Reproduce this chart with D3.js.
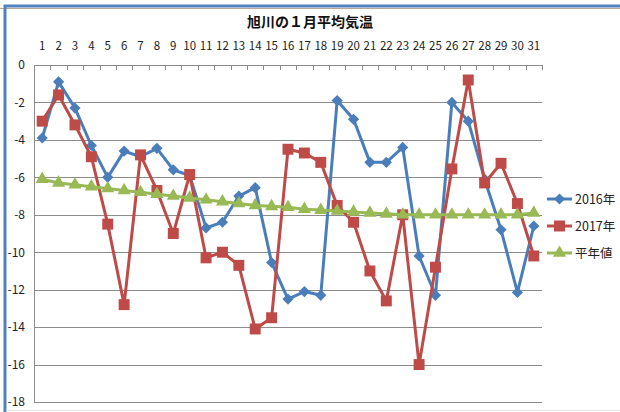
<!DOCTYPE html>
<html><head><meta charset="utf-8">
<script src="https://cdn.jsdelivr.net/npm/d3@7/dist/d3.min.js"></script>
<style>body{margin:0;background:#fff;} svg{display:block;}</style>
</head><body>
<svg id="c" width="620" height="412"></svg>
<script>
const days = d3.range(1, 32).map(String);
const s2016 = [-3.9,-0.9,-2.3,-4.3,-6.0,-4.6,-4.9,-4.45,-5.6,-5.9,-8.7,-8.4,-7.0,-6.55,-10.55,-12.5,-12.1,-12.3,-1.9,-2.9,-5.2,-5.2,-4.4,-10.2,-12.3,-2.0,-3.0,-6.1,-8.8,-12.15,-8.6];
const s2017 = [-3.0,-1.6,-3.2,-4.9,-8.5,-12.8,-4.8,-6.7,-9.0,-5.85,-10.3,-10.0,-10.7,-14.1,-13.5,-4.5,-4.7,-5.2,-7.5,-8.4,-11.0,-12.6,-8.0,-16.0,-10.8,-5.55,-0.8,-6.3,-5.25,-7.4,-10.2];
const sNormal = [-6.1,-6.3,-6.4,-6.5,-6.6,-6.7,-6.8,-6.9,-7.0,-7.1,-7.2,-7.3,-7.4,-7.5,-7.55,-7.6,-7.7,-7.75,-7.8,-7.85,-7.9,-7.95,-8.0,-8.0,-8.0,-8.0,-8.0,-8.0,-8.0,-8.0,-7.9];
const yTicks = [0,-2,-4,-6,-8,-10,-12,-14,-16,-18];
const seriesNames = ["2016年","2017年","平年値"];
const title = "旭川の１月平均気温";

const svg = d3.select("#c");
const font = "'Noto Sans CJK JP', 'Noto Sans', sans-serif";
const L = 34, R = 542, T = 65, B = 402;

// frame
svg.append("rect").attr("x",0).attr("y",0).attr("width",620).attr("height",412).attr("fill","#fff");
svg.append("line").attr("x1",0).attr("x2",620).attr("y1",8.5).attr("y2",8.5).attr("stroke","#b8a898").attr("stroke-width",1);
svg.append("line").attr("x1",4).attr("x2",620).attr("y1",6).attr("y2",6).attr("stroke","#4f81bd").attr("stroke-width",3);
svg.append("line").attr("x1",5).attr("x2",5).attr("y1",5).attr("y2",412).attr("stroke","#4f81bd").attr("stroke-width",3);
svg.append("line").attr("x1",6).attr("x2",620).attr("y1",410.5).attr("y2",410.5).attr("stroke","#e4e4e4").attr("stroke-width",1);

const x = d3.scaleBand().domain(days).range([L, R]);
const y = d3.scaleLinear().domain([-18, 0]).range([B, T]);
const xc = d => x(d) + x.bandwidth()/2;

// gridlines
svg.append("g").selectAll("line").data(yTicks).join("line")
  .attr("x1", L).attr("x2", R).attr("y1", d => Math.round(y(d))+0.5).attr("y2", d => Math.round(y(d))+0.5)
  .attr("stroke", "#8c8c8c").attr("stroke-width", 1);
// left axis line
svg.append("line").attr("x1",L+0.5).attr("x2",L+0.5).attr("y1",T).attr("y2",B).attr("stroke","#8c8c8c");

// y axis labels
const yAxis = d3.axisLeft(y).tickValues(yTicks).tickSize(0).tickPadding(8).tickFormat(d => d3.format("d")(d).replace("−","-"));
const gy = svg.append("g").attr("transform", `translate(${L-1},0)`).call(yAxis);
gy.select(".domain").remove();
gy.selectAll("text").attr("font-family", font).attr("font-size", 12).attr("fill", "#222");

// x axis at top (0 line) with ticks between categories pointing down
const xAxis = d3.axisTop(x).tickSize(0).tickPadding(15);
const gx = svg.append("g").attr("transform", `translate(0,${y(0)})`).call(xAxis);
gx.select(".domain").remove();
gx.selectAll("text").attr("font-family", font).attr("font-size", 11.5).attr("fill", "#222");
const tickEdges = days.map(d => x(d)).concat([R]);
svg.append("g").selectAll("line").data(tickEdges).join("line")
  .attr("x1", d => Math.round(d)+0.5).attr("x2", d => Math.round(d)+0.5)
  .attr("y1", Math.round(y(0))).attr("y2", Math.round(y(0))+5)
  .attr("stroke", "#8c8c8c");

// title
svg.append("text").attr("x", 310).attr("y", 27).attr("text-anchor","middle")
  .attr("font-family", font).attr("font-size", 14).attr("font-weight","bold").attr("fill","#111").text(title);

const colors = ["#4a7ebb", "#be4b48", "#98b954"];
const data = [s2016, s2017, sNormal];
const line = d3.line().x((d,i) => xc(days[i])).y(d => y(d));

const symbols = [
  d3.symbol().type(d3.symbolDiamond2).size(80),
  d3.symbol().type(d3.symbolSquare).size(120),
  d3.symbol().type(d3.symbolTriangle).size(75)
];

data.forEach((arr, k) => {
  const g = svg.append("g");
  g.append("path").datum(arr).attr("d", line).attr("fill","none")
    .attr("stroke", colors[k]).attr("stroke-width", 3).attr("stroke-linejoin","round");
  g.selectAll("path.m").data(arr).join("path").attr("class","m")
    .attr("transform", (d,i) => `translate(${xc(days[i])},${y(d)})`)
    .attr("d", symbols[k]()).attr("fill", colors[k]);
});

// legend
const lg = svg.append("g");
seriesNames.forEach((n, k) => {
  const ly = 199 + k*27;
  lg.append("line").attr("x1",547).attr("x2",572).attr("y1",ly).attr("y2",ly).attr("stroke",colors[k]).attr("stroke-width",3);
  lg.append("path").attr("transform",`translate(559.5,${ly})`).attr("d", symbols[k]()).attr("fill",colors[k]);
  lg.append("text").attr("x",575).attr("y",ly+4.5).attr("font-family",font).attr("font-size",12.5).attr("fill","#222").text(n);
});
</script>
</body></html>
